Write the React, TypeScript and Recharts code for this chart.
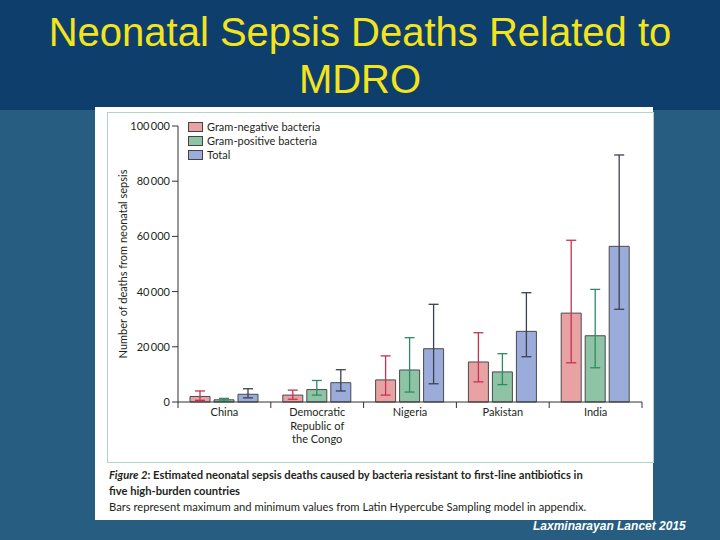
import { BarChart, Bar, XAxis, YAxis, ErrorBar, Legend } from "recharts";

const countries = ["China", "Democratic Republic of the Congo", "Nigeria", "Pakistan", "India"];
const tickLines: Record<string, string[]> = {
  "Democratic Republic of the Congo": ["Democratic", "Republic of", "the Congo"],
};

// central estimates and min/max from the sampling model
const gramNeg = [2000, 2500, 8000, 14500, 32200];
const gramNegMin = [600, 1000, 2500, 7300, 14200];
const gramNegMax = [4000, 4300, 16700, 25100, 58600];

const gramPos = [800, 4500, 11600, 10900, 24000];
const gramPosMin = [300, 2500, 3600, 6300, 12400];
const gramPosMax = [1300, 7800, 23300, 17500, 40800];

const total = [2800, 7000, 19300, 25600, 56400];
const totalMin = [1500, 4000, 6600, 16400, 33600];
const totalMax = [4800, 11700, 35400, 39600, 89500];

const yTicks = [0, 20000, 40000, 60000, 80000, 100000];

const series = [
  { key: "gn", name: "Gram-negative bacteria", fill: "#e8a2a4", err: "#c43352" },
  { key: "gp", name: "Gram-positive bacteria", fill: "#8fc3a5", err: "#2f8a66" },
  { key: "tot", name: "Total", fill: "#9cacda", err: "#3b4150" },
];

const data = countries.map((c, i) => ({
  country: c,
  gn: gramNeg[i],
  gnErr: [gramNeg[i] - gramNegMin[i], gramNegMax[i] - gramNeg[i]],
  gp: gramPos[i],
  gpErr: [gramPos[i] - gramPosMin[i], gramPosMax[i] - gramPos[i]],
  tot: total[i],
  totErr: [total[i] - totalMin[i], totalMax[i] - total[i]],
}));

const W = 546;
const H = 350;
const M = { top: 14, right: 11, bottom: 10, left: 11 };
const Y_W = 60;
const band = (W - M.left - M.right - Y_W) / countries.length;
const font = "Lato, sans-serif";

const fmt = (v: number) => (v >= 10000 ? `${Math.floor(v / 1000)}\u2009${String(v % 1000).padStart(3, "0")}` : String(v));

function CountryTick(props: any) {
  const { x, y, payload, index } = props;
  const lines = tickLines[payload.value] ?? [payload.value];
  const top = y - 8;
  return (
    <g>
      <line x1={x - band / 2} x2={x - band / 2} y1={top} y2={top + 6} stroke="#333" />
      {index === countries.length - 1 && (
        <line x1={x + band / 2} x2={x + band / 2} y1={top} y2={top + 6} stroke="#333" />
      )}
      {lines.map((l: string, i: number) => (
        <text key={i} x={x} y={top + 14 + i * 13.5} textAnchor="middle" fontSize={11} fill="#231f20" fontFamily={font}>
          {l}
        </text>
      ))}
    </g>
  );
}

function LegendBox() {
  return (
    <div style={{ fontFamily: font, fontSize: 11, color: "#231f20", lineHeight: "14px" }}>
      {series.map((s) => (
        <div key={s.key} style={{ display: "flex", alignItems: "center", height: 14 }}>
          <span style={{ display: "inline-block", width: 13, height: 8, background: s.fill, border: "1px solid #444", marginRight: 4 }} />
          {s.name}
        </div>
      ))}
    </div>
  );
}

export default function App() {
  return (
    <div style={{ position: "absolute", left: 0, top: 0, width: 720, height: 540, background: "#275d80", overflow: "hidden" }}>
      <div style={{ position: "absolute", left: 0, top: 0, width: 720, height: 110, background: "#0e3f6c" }} />
      <div
        style={{
          position: "absolute",
          left: 0,
          top: 9,
          width: 720,
          textAlign: "center",
          color: "#f4e41c",
          fontFamily: "'Liberation Sans', Arial, sans-serif",
          fontSize: 40,
          lineHeight: "47px",
        }}
      >
        Neonatal Sepsis Deaths Related to
        <br />
        MDRO
      </div>
      <div style={{ position: "absolute", left: 95, top: 107, width: 558, height: 413, background: "#fff" }} />
      <div style={{ position: "absolute", left: 107, top: 112, width: W - 1, height: H - 1, border: "1px solid #b3d3c8" }} />
      <div style={{ position: "absolute", left: 107, top: 112 }}>
        <BarChart width={W} height={H} data={data} margin={M} barSize={20} barGap={4}>
          <XAxis
            dataKey="country"
            tick={<CountryTick />}
            tickLine={false}
            interval={0}
            height={50}
            axisLine={{ stroke: "#333" }}
          />
          <YAxis
            width={Y_W}
            domain={[0, 100000]}
            ticks={yTicks}
            tickFormatter={fmt}
            tickSize={6}
            tickMargin={2}
            tick={{ fontSize: 11, fill: "#231f20", fontFamily: font }}
            tickLine={{ stroke: "#333" }}
            axisLine={{ stroke: "#333" }}
            label={{
              value: "Number of deaths from neonatal sepsis",
              angle: -90,
              position: "insideLeft",
              offset: 5,
              style: { textAnchor: "middle", fontSize: 11, fill: "#231f20", fontFamily: font },
            }}
          />
          <Legend
            layout="vertical"
            align="center"
            verticalAlign="middle"
            wrapperStyle={{ left: 81, top: 8, width: 200 }}
            content={() => <LegendBox />}
          />
          {series.map((s) => (
            <Bar key={s.key} dataKey={s.key} name={s.name} fill={s.fill} stroke="#4a4a4a" strokeWidth={1} isAnimationActive={false}>
              <ErrorBar dataKey={`${s.key}Err`} width={5} stroke={s.err} strokeWidth={1.3} direction="y" />
            </Bar>
          ))}
        </BarChart>
      </div>
      <div style={{ position: "absolute", left: 109, top: 467, width: 540, fontFamily: font, fontSize: 11.2, color: "#231f20", lineHeight: "16px" }}>
        <div style={{ fontWeight: "bold" }}>
          <i>Figure 2</i>: Estimated neonatal sepsis deaths caused by bacteria resistant to first-line antibiotics in
        </div>
        <div style={{ fontWeight: "bold" }}>five high-burden countries</div>
        <div>Bars represent maximum and minimum values from Latin Hypercube Sampling model in appendix.</div>
      </div>
      <div
        style={{
          position: "absolute",
          left: 533,
          top: 519,
          fontFamily: "'Liberation Sans', Arial, sans-serif",
          fontSize: 12,
          fontStyle: "italic",
          fontWeight: "bold",
          color: "#fff",
        }}
      >
        Laxminarayan Lancet 2015
      </div>
    </div>
  );
}
